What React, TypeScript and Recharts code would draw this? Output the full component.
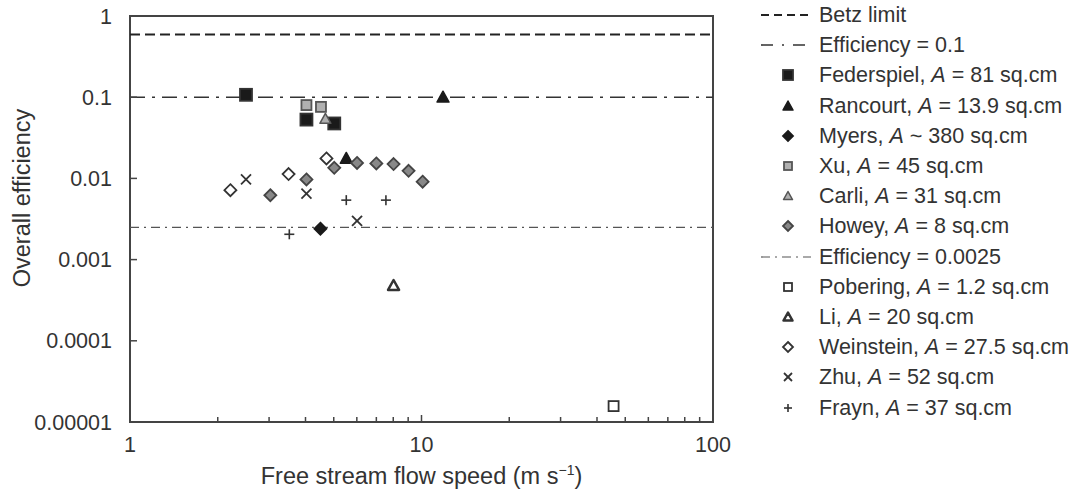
import React from "react";
import { ScatterChart, Scatter, XAxis, YAxis, ReferenceLine, ReferenceArea } from "recharts";

// axis ticks
const xTicks = [1, 2, 3, 4, 5, 6, 7, 8, 9, 10, 20, 30, 40, 50, 60, 70, 80, 90, 100];
const xMajor = [1, 10, 100];
const yTicks = [0.00001, 0.0001, 0.001, 0.01, 0.1, 1];
const yTickLabels = ["0.00001", "0.0001", "0.001", "0.01", "0.1", "1"];

// reference efficiencies
const betzLimit = 0.593;
const effHigh = 0.1;
const effLow = 0.0025;

// [speed m/s, efficiency]
const federspiel = [[2.5, 0.107], [4.03, 0.053], [5.02, 0.0475]];
const rancourt = [[11.85, 0.1], [5.52, 0.0176]];
const myers = [[4.5, 0.0024]];
const xu = [[4.03, 0.08], [4.52, 0.076]];
const carli = [[4.68, 0.054]];
const howey = [[3.03, 0.0062], [4.03, 0.0097], [5.02, 0.0135], [6.01, 0.0155], [7.0, 0.0153], [8.02, 0.015], [9.03, 0.0124], [10.09, 0.0091]];
const pobering = [[45.6, 0.0000157]];
const li = [[8.02, 0.00048]];
const weinstein = [[2.21, 0.00715], [3.5, 0.0113], [4.72, 0.0176]];
const zhu = [[2.5, 0.0097], [4.03, 0.0065], [6.01, 0.003]];
const frayn = [[3.52, 0.00205], [5.52, 0.0054], [7.55, 0.0054]];

const FONT = "'Liberation Sans', Arial, sans-serif";
const TEXT = "#333";
const TICK_FS = 21.5;
const TITLE_FS = 23.5;
const LEGEND_FS = 21.5;

type Kind = "square" | "triangle" | "diamond" | "cross" | "plus";

const series = [
  { name: "Federspiel", rel: "=", area: "81", data: federspiel, kind: "square", fill: "#1a1a1a", stroke: "#333", size: 12 },
  { name: "Rancourt", rel: "=", area: "13.9", data: rancourt, kind: "triangle", fill: "#1a1a1a", stroke: "#1a1a1a", size: 12 },
  { name: "Myers", rel: "~", area: "380", data: myers, kind: "diamond", fill: "#1a1a1a", stroke: "#1a1a1a", size: 12 },
  { name: "Xu", rel: "=", area: "45", data: xu, kind: "square", fill: "#b0b0b0", stroke: "#555", size: 10 },
  { name: "Carli", rel: "=", area: "31", data: carli, kind: "triangle", fill: "#b0b0b0", stroke: "#555", size: 11 },
  { name: "Howey", rel: "=", area: "8", data: howey, kind: "diamond", fill: "#888", stroke: "#444", size: 12 },
  { name: "Pobering", rel: "=", area: "1.2", data: pobering, kind: "square", fill: "#fff", stroke: "#333", size: 10 },
  { name: "Li", rel: "=", area: "20", data: li, kind: "triangle", fill: "#fff", stroke: "#333", size: 11 },
  { name: "Weinstein", rel: "=", area: "27.5", data: weinstein, kind: "diamond", fill: "#fff", stroke: "#333", size: 12 },
  { name: "Zhu", rel: "=", area: "52", data: zhu, kind: "cross", fill: "none", stroke: "#333", size: 10 },
  { name: "Frayn", rel: "=", area: "37", data: frayn, kind: "plus", fill: "none", stroke: "#333", size: 10 },
];

function Marker({ cx, cy, kind, fill, stroke, size }: any) {
  const h = size / 2;
  if (kind === "square")
    return <rect x={cx - h} y={cy - h} width={size} height={size} fill={fill} stroke={stroke} strokeWidth={1.8} />;
  if (kind === "triangle")
    return (
      <polygon
        points={`${cx},${cy - h} ${cx + h},${cy + h * 0.8} ${cx - h},${cy + h * 0.8}`}
        fill={fill}
        stroke={stroke}
        strokeWidth={fill === "#fff" ? 2.5 : 1.5}
        strokeLinejoin="round"
      />
    );
  if (kind === "diamond")
    return (
      <polygon
        points={`${cx},${cy - h} ${cx + h},${cy} ${cx},${cy + h} ${cx - h},${cy}`}
        fill={fill}
        stroke={stroke}
        strokeWidth={1.8}
      />
    );
  if (kind === "cross")
    return (
      <g stroke={stroke} strokeWidth={1.8}>
        <line x1={cx - h} y1={cy - h} x2={cx + h} y2={cy + h} />
        <line x1={cx - h} y1={cy + h} x2={cx + h} y2={cy - h} />
      </g>
    );
  return (
    <g stroke={stroke} strokeWidth={1.6}>
      <line x1={cx - h} y1={cy} x2={cx + h} y2={cy} />
      <line x1={cx} y1={cy - h} x2={cx} y2={cy + h} />
    </g>
  );
}

function XTick({ x, y, payload }: any) {
  const major = xMajor.includes(payload.value);
  return (
    <g>
      <line x1={x} x2={x} y1={y} y2={y - (major ? 7 : 5)} stroke="#444" strokeWidth={1.5} />
      {major && (
        <text x={x} y={y + 30} textAnchor="middle" fontSize={TICK_FS} fill={TEXT} fontFamily={FONT}>
          {payload.value}
        </text>
      )}
    </g>
  );
}

function YTick({ x, y, payload, index }: any) {
  return (
    <g>
      <line x1={x} x2={x + 7} y1={y} y2={y} stroke="#444" strokeWidth={1.5} />
      <text x={x - 18} y={y + 7.5} textAnchor="end" fontSize={TICK_FS} fill={TEXT} fontFamily={FONT}>
        {yTickLabels[index] ?? payload.value}
      </text>
    </g>
  );
}

const lineStyles = {
  betz: { stroke: "#222", width: 2, dash: "10 5" },
  high: { stroke: "#333", width: 1.6, dash: "15 7 3 7" },
  low: { stroke: "#555", width: 1.2, dash: "9 5 2 5" },
};

function LegendLine({ s }: any) {
  return (
    <svg width={52} height={10} style={{ position: "absolute", left: 760, top: -5 }}>
      <line x1={1} x2={51} y1={5} y2={5} stroke={s.stroke} strokeWidth={s.width} strokeDasharray={s.dash} />
    </svg>
  );
}

function LegendRow({ i, icon, children }: any) {
  return (
    <div style={{ position: "absolute", left: 0, top: 15 + i * 30.2, width: 1082, height: 0 }}>
      {icon}
      <div
        style={{
          position: "absolute",
          left: 819,
          top: -13,
          fontSize: LEGEND_FS,
          lineHeight: "26px",
          fontFamily: FONT,
          color: TEXT,
          whiteSpace: "nowrap",
        }}
      >
        {children}
      </div>
    </div>
  );
}

function ChartLegend() {
  const rows: any[] = [];
  rows.push(
    <LegendRow key="betz" i={0} icon={<LegendLine s={{ ...lineStyles.betz, dash: "8 5" }} />}>
      Betz limit
    </LegendRow>
  );
  rows.push(
    <LegendRow key="high" i={1} icon={<LegendLine s={{ ...lineStyles.high, dash: "12 9 2 9" }} />}>
      Efficiency = 0.1
    </LegendRow>
  );
  series.forEach((s, k) => {
    const i = k < 6 ? k + 2 : k + 3;
    rows.push(
      <LegendRow
        key={s.name}
        i={i}
        icon={
          <svg width={20} height={20} style={{ position: "absolute", left: 778, top: -10 }}>
            <Marker cx={10} cy={10} kind={s.kind} fill={s.fill} stroke={s.stroke} size={s.size - 2} />
          </svg>
        }
      >
        {s.name}, <i>A</i> {s.rel} {s.area} sq.cm
      </LegendRow>
    );
    if (k === 5)
      rows.push(
        <LegendRow key="low" i={8} icon={<LegendLine s={lineStyles.low} />}>
          Efficiency = 0.0025
        </LegendRow>
      );
  });
  return <>{rows}</>;
}

export default function App() {
  return (
    <div style={{ position: "absolute", left: 0, top: 0, width: 1082, height: 495, background: "#fff" }}>
      <ScatterChart width={1082} height={495} margin={{ top: 16, right: 369, bottom: 0, left: 0 }}>
        <XAxis
          dataKey="x"
          type="number"
          scale="log"
          domain={[1, 100]}
          ticks={xTicks}
          interval={0}
          allowDataOverflow
          height={73}
          tickSize={0}
          tickMargin={0}
          tickLine={false}
          axisLine={false}
          tick={<XTick />}
          label={{
            content: ({ viewBox }: any) => (
              <text
                x={viewBox.x + viewBox.width / 2}
                y={viewBox.y + 62}
                textAnchor="middle"
                fontSize={TITLE_FS}
                fill={TEXT}
                fontFamily={FONT}
              >
                Free stream flow speed (m s
                <tspan dy={-9} fontSize={14}>
                  −1
                </tspan>
                <tspan dy={9}>)</tspan>
              </text>
            ),
          }}
        />
        <YAxis
          dataKey="y"
          type="number"
          scale="log"
          domain={[0.00001, 1]}
          ticks={yTicks}
          interval={0}
          allowDataOverflow
          width={130}
          tickSize={0}
          tickMargin={0}
          tickLine={false}
          axisLine={false}
          tick={<YTick />}
          label={{
            content: ({ viewBox }: any) => {
              const cx = 22;
              const cy = viewBox.y + viewBox.height / 2 - 21;
              return (
                <text
                  x={cx}
                  y={cy}
                  transform={`rotate(-90 ${cx} ${cy})`}
                  textAnchor="middle"
                  dominantBaseline="central"
                  fontSize={TITLE_FS}
                  fill={TEXT}
                  fontFamily={FONT}
                >
                  Overall efficiency
                </text>
              );
            },
          }}
        />
        <ReferenceArea x1={1} x2={100} y1={0.00001} y2={1} fill="none" stroke="#444" strokeWidth={2} strokeOpacity={1} fillOpacity={0} />
        <ReferenceLine y={betzLimit} stroke={lineStyles.betz.stroke} strokeWidth={lineStyles.betz.width} strokeDasharray={lineStyles.betz.dash} />
        <ReferenceLine y={effHigh} stroke={lineStyles.high.stroke} strokeWidth={lineStyles.high.width} strokeDasharray={lineStyles.high.dash} />
        <ReferenceLine y={effLow} stroke={lineStyles.low.stroke} strokeWidth={lineStyles.low.width} strokeDasharray={lineStyles.low.dash} />
        {series.map((s) => (
          <Scatter
            key={s.name}
            name={s.name}
            data={s.data.map(([x, y]) => ({ x, y }))}
            isAnimationActive={false}
            shape={(p: any) => <Marker cx={p.cx} cy={p.cy} kind={s.kind as Kind} fill={s.fill} stroke={s.stroke} size={s.size} />}
          />
        ))}
      </ScatterChart>
      <ChartLegend />
    </div>
  );
}
